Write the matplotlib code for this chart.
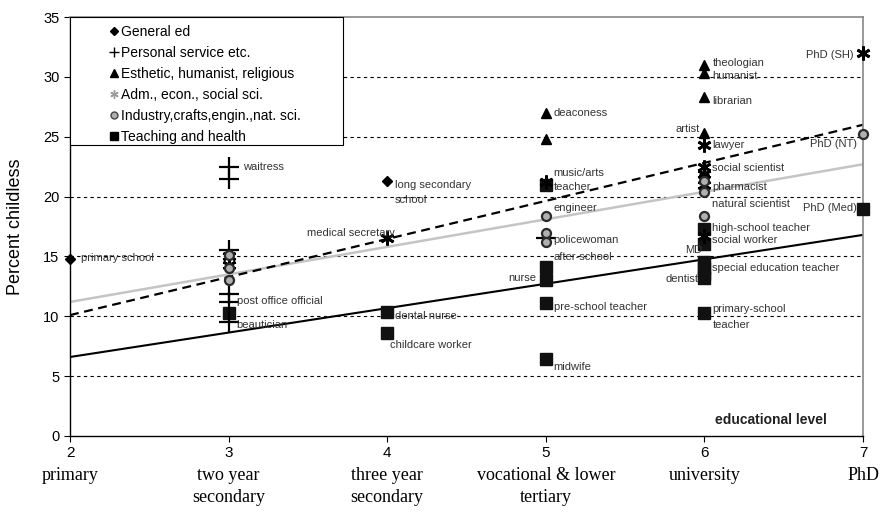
import numpy as np
import matplotlib
matplotlib.use("Agg")
import matplotlib.pyplot as plt
from matplotlib.patches import Rectangle
from matplotlib.transforms import blended_transform_factory

# educational level (2 = primary ... 7 = PhD) and percent childless per occupation group
general_x = [2, 4, 6]
general_y = [14.8, 21.3, 21.8]

personal_x = [3, 3, 3, 3, 3, 3, 5]
personal_y = [22.5, 21.5, 15.5, 11.9, 11.2, 9.5, 16.5]

esthetic_x = [5, 5, 6, 6, 6, 6]
esthetic_y = [27.0, 24.8, 31.0, 30.3, 28.3, 25.3]

adm_x = [3, 3, 4, 5, 6, 6, 6, 6, 6, 7]
adm_y = [15.0, 14.3, 16.5, 21.2, 24.3, 22.5, 21.9, 21.0, 16.7, 32.0]

industry_x = [3, 3, 3, 5, 5, 5, 6, 6, 6, 7]
industry_y = [15.1, 14.0, 13.0, 18.4, 17.0, 16.2, 21.3, 20.4, 18.4, 25.2]

teaching_x = [3, 4, 4, 5, 5, 5, 5, 5, 6, 6, 6, 6, 6, 6, 6, 7]
teaching_y = [10.3, 10.4, 8.6, 21.0, 14.1, 13.0, 11.1, 6.4,
              17.3, 16.0, 14.5, 14.0, 13.5, 13.2, 10.3, 19.0]

# fitted trend lines: value at level 2 and at level 7
trend_solid = [6.6, 16.8]
trend_grey = [11.2, 22.7]
trend_dashed = [10.1, 26.0]

levels = [2, 3, 4, 5, 6, 7]
level_names = ["primary", "two year\nsecondary", "three year\nsecondary",
               "vocational & lower\ntertiary", "university", "PhD"]

# occupation labels: (text, x, y, horizontal alignment)
labels = [
    ("primary school", 2.07, 14.87, "left"),
    ("waitress", 3.09, 22.47, "left"),
    ("post office official", 3.05, 11.28, "left"),
    ("beautician", 3.05, 9.27, "left"),
    ("long secondary", 4.05, 20.97, "left"),
    ("school", 4.05, 19.72, "left"),
    ("medical secretary", 4.05, 16.96, "right"),
    ("dental nurse", 4.05, 10.03, "left"),
    ("childcare worker", 4.02, 7.6, "left"),
    ("deaconess", 5.05, 26.98, "left"),
    ("music/arts", 5.05, 21.97, "left"),
    ("teacher", 5.05, 20.8, "left"),
    ("engineer", 5.05, 19.05, "left"),
    ("policewoman", 5.05, 16.37, "left"),
    ("after-school", 5.05, 14.95, "left"),
    ("nurse", 4.94, 13.2, "right"),
    ("pre-school teacher", 5.05, 10.78, "left"),
    ("midwife", 5.05, 5.76, "left"),
    ("theologian", 6.05, 31.16, "left"),
    ("humanist", 6.05, 30.08, "left"),
    ("librarian", 6.05, 27.99, "left"),
    ("artist", 5.97, 25.65, "right"),
    ("lawyer", 6.05, 24.31, "left"),
    ("social scientist", 6.05, 22.39, "left"),
    ("pharmacist", 6.05, 20.8, "left"),
    ("natural scientist", 6.05, 19.38, "left"),
    ("high-school teacher", 6.05, 17.38, "left"),
    ("social worker", 6.05, 16.37, "left"),
    ("MD", 5.985, 15.54, "right"),
    ("special education teacher", 6.05, 14.04, "left"),
    ("dentist", 5.96, 13.12, "right"),
    ("primary-school", 6.05, 10.61, "left"),
    ("teacher", 6.05, 9.27, "left"),
    ("PhD (SH)", 6.94, 31.83, "right"),
    ("PhD (NT)", 6.96, 24.4, "right"),
    ("PhD (Med)", 6.96, 19.05, "right"),
]

plt.rcParams["font.family"] = ["Liberation Sans", "DejaVu Sans"]

fig = plt.figure(figsize=(8.91, 5.17), dpi=100)
ax = fig.add_axes([0.0786, 0.1567, 0.89, 0.8103])

# horizontal dashed grid
for yv in [5, 10, 15, 20, 25, 30]:
    ax.axhline(yv, color="black", lw=0.8, ls=(0, (3, 3)), zorder=1)

# trend lines
ends = [2, 7]
ax.plot(ends, trend_solid, color="black", lw=1.5, zorder=2)
ax.plot(ends, trend_grey, color="#c4c4c4", lw=1.8, zorder=2)
ax.plot(ends, trend_dashed, color="black", lw=1.6, ls=(0, (4, 2.5)), zorder=2)

# data points
ax.plot(general_x, general_y, "D", color="black", ms=5.5, ls="none", zorder=4,
        clip_on=False)
ax.plot(personal_x, personal_y, "+", color="black", ms=15, mew=1.6, ls="none", zorder=4)
ax.plot(esthetic_x, esthetic_y, "^", color="black", ms=7.5, ls="none", zorder=4)
ax.plot(adm_x, adm_y, marker=(6, 2, 0), color="black", ms=10, mew=2, ls="none",
        zorder=4, clip_on=False)
ax.plot(industry_x, industry_y, "o", mfc="#b0b0b0", mec="#2a2a2a", mew=1.6, ms=6.5,
        ls="none", zorder=5, clip_on=False)
ax.plot(teaching_x, teaching_y, "s", color="#111111", ms=8.5, ls="none", zorder=3,
        clip_on=False)

for txt, tx, ty, ha in labels:
    ax.text(tx, ty, txt, ha=ha, va="center", fontsize=8, color="#333333", zorder=6)

ax.text(6.42, 1.34, "educational level", ha="center", va="center",
        fontsize=10, fontweight="bold", color="#222222")

# legend box: white frame drawn separately so the entries sit inset from its left edge
ax.add_patch(Rectangle((0.0, 0.6945), 0.344, 0.3055, transform=ax.transAxes,
                       facecolor="white", edgecolor="black", lw=0.8, zorder=7))
h = [
    plt.Line2D([], [], marker="D", color="black", ms=4, ls="none"),
    plt.Line2D([], [], marker="+", color="black", ms=7, mew=1, ls="none"),
    plt.Line2D([], [], marker="^", color="black", ms=5.5, ls="none"),
    plt.Line2D([], [], marker=(6, 2, 0), color="#999999", ms=6, mew=1, ls="none"),
    plt.Line2D([], [], marker="o", mfc="#b0b0b0", mec="#444444", ms=5, ls="none"),
    plt.Line2D([], [], marker="s", color="black", ms=6, ls="none"),
]
names = ["General ed", "Personal service etc.", "Esthetic, humanist, religious",
         "Adm., econ., social sci.", "Industry,crafts,engin.,nat. sci.",
         "Teaching and health"]
leg = ax.legend(h, names, loc="upper left", bbox_to_anchor=(0.048, 0.981),
                fontsize=10, frameon=False, borderpad=0.0,
                handlelength=0.8, handletextpad=0.15, labelspacing=0.5,
                borderaxespad=0.0)
leg.set_zorder(8)

ax.set_xlim(2, 7)
ax.set_ylim(0, 35)
ax.set_yticks(range(0, 36, 5))
ax.set_xticks(levels)
ax.set_xticklabels([str(v) for v in levels], fontsize=11)
ax.tick_params(axis="both", direction="out", length=4, width=0.8, labelsize=11)
ax.tick_params(axis="y", labelsize=10.5)

trans = blended_transform_factory(ax.transData, ax.transAxes)
for lv, nm in zip(levels, level_names):
    ax.text(lv, -0.073, nm, transform=trans, ha="center", va="top",
            fontsize=13, family="Liberation Serif", linespacing=1.45)

ax.set_ylabel("Percent childless", fontsize=13)
ax.yaxis.set_label_coords(-0.058, 0.5)

for side in ["left", "bottom"]:
    ax.spines[side].set_color("black")
    ax.spines[side].set_linewidth(1.0)
for side in ["top", "right"]:
    ax.spines[side].set_color("#888888")
    ax.spines[side].set_linewidth(1.2)

fig.savefig("out.png", dpi=100)
